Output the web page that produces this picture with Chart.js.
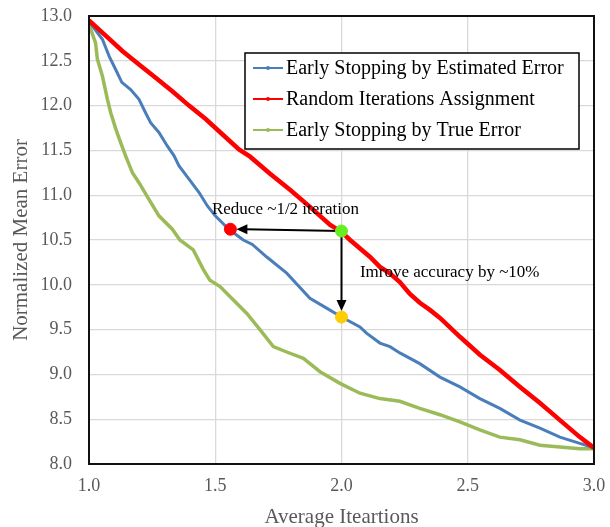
<!DOCTYPE html>
<html lang="en">
<head>
<meta charset="UTF-8">
<title>Normalized Mean Error</title>
<script src="https://cdn.jsdelivr.net/npm/chart.js"></script>
<style>
  body { margin: 0; background: #fff; }
  #wrap { width: 610px; height: 527px; }
</style>
</head>
<body>
<div id="wrap"><canvas id="errChart" width="610" height="527"></canvas></div>
<script>
// tick labels
const xTickValues = [1.0, 1.5, 2.0, 2.5, 3.0];
const yTickValues = [8.0, 8.5, 9.0, 9.5, 10.0, 10.5, 11.0, 11.5, 12.0, 12.5, 13.0];

const seriesNames = ['Early Stopping by Estimated Error', 'Random Iterations Assignment', 'Early Stopping by True Error'];
const seriesColors = ['#4a7ebb', '#ff0000', '#9bbb59'];

// Early Stopping by Estimated Error
const estX = [1.0, 1.013, 1.053, 1.08, 1.106, 1.13, 1.165, 1.198, 1.224, 1.244, 1.277, 1.31, 1.337, 1.356, 1.396,
  1.436, 1.469, 1.50, 1.554, 1.611, 1.647, 1.704, 1.783, 1.875, 1.941, 2.0, 2.073, 2.099, 2.152, 2.192, 2.231,
  2.31, 2.39, 2.469, 2.548, 2.627, 2.707, 2.786, 2.865, 2.944, 3.0];
const estY = [12.93, 12.89, 12.74, 12.55, 12.40, 12.26, 12.18, 12.07, 11.92, 11.81, 11.70, 11.55, 11.44, 11.33, 11.18,
  11.03, 10.88, 10.77, 10.62, 10.50, 10.45, 10.31, 10.13, 9.85, 9.74, 9.64, 9.53, 9.46, 9.35, 9.31, 9.24,
  9.12, 8.97, 8.86, 8.73, 8.62, 8.49, 8.40, 8.30, 8.23, 8.18];

// Random Iterations Assignment
const randX = [1.0, 1.066, 1.132, 1.198, 1.264, 1.33, 1.396, 1.462, 1.528, 1.594, 1.638, 1.717, 1.796, 1.875, 1.954,
  2.0, 2.034, 2.113, 2.152, 2.19, 2.231, 2.27, 2.31, 2.35, 2.39, 2.469, 2.548, 2.627, 2.707, 2.786, 2.865, 2.944, 3.0];
const randY = [12.95, 12.78, 12.61, 12.46, 12.31, 12.16, 12.00, 11.85, 11.68, 11.51, 11.43, 11.24, 11.06, 10.87, 10.67,
  10.59, 10.50, 10.31, 10.20, 10.13, 10.03, 9.90, 9.80, 9.72, 9.63, 9.42, 9.22, 9.05, 8.86, 8.68, 8.49, 8.30, 8.18];

// Early Stopping by True Error
const trueX = [1.0, 1.007, 1.026, 1.033, 1.053, 1.073, 1.086, 1.106, 1.125, 1.145, 1.172, 1.198, 1.238, 1.277, 1.33,
  1.36, 1.413, 1.453, 1.479, 1.519, 1.572, 1.625, 1.677, 1.73, 1.783, 1.849, 1.915, 1.994, 2.073, 2.152, 2.231,
  2.31, 2.39, 2.469, 2.548, 2.627, 2.707, 2.786, 2.865, 2.944, 3.0];
const trueY = [12.93, 12.85, 12.70, 12.52, 12.33, 12.07, 11.92, 11.74, 11.59, 11.44, 11.25, 11.14, 10.95, 10.77, 10.62,
  10.50, 10.39, 10.17, 10.05, 9.98, 9.83, 9.68, 9.50, 9.31, 9.25, 9.18, 9.03, 8.90, 8.79, 8.73, 8.70,
  8.62, 8.55, 8.47, 8.38, 8.30, 8.27, 8.21, 8.19, 8.17, 8.17];

// highlighted points: reduced iterations, same iterations (random), improved accuracy
const markX = [1.56, 2.0, 2.0];
const markY = [10.62, 10.60, 9.64];
const markColors = ['#ff0000', '#66ee22', '#ffcc00'];

const toPoints = (xs, ys) => xs.map((x, i) => ({ x: x, y: ys[i] }));
const serif = '"Liberation Serif", "Times New Roman", serif';

// arrows and notes between the highlighted points
const notesPlugin = {
    id: 'notes',
    beforeDatasetsDraw(chart) {
        const ctx = chart.ctx;
        const xs = chart.scales.x, ys = chart.scales.y;
        const r = { x: xs.getPixelForValue(markX[0]), y: ys.getPixelForValue(markY[0]) };
        const g = { x: xs.getPixelForValue(markX[1]), y: ys.getPixelForValue(markY[1]) };
        const yl = { x: xs.getPixelForValue(markX[2]), y: ys.getPixelForValue(markY[2]) };
        ctx.save();
        ctx.strokeStyle = '#000';
        ctx.fillStyle = '#000';
        ctx.lineWidth = 2;
        // horizontal arrow to the red point
        ctx.beginPath();
        ctx.moveTo(g.x, g.y);
        ctx.lineTo(r.x + 14, r.y);
        ctx.stroke();
        ctx.beginPath();
        ctx.moveTo(r.x + 6, r.y);
        ctx.lineTo(r.x + 17, r.y - 5);
        ctx.lineTo(r.x + 17, r.y + 5);
        ctx.closePath();
        ctx.fill();
        // vertical arrow to the yellow point
        ctx.beginPath();
        ctx.moveTo(g.x, g.y);
        ctx.lineTo(yl.x, yl.y - 14);
        ctx.stroke();
        ctx.beginPath();
        ctx.moveTo(yl.x, yl.y - 6);
        ctx.lineTo(yl.x - 5, yl.y - 17);
        ctx.lineTo(yl.x + 5, yl.y - 17);
        ctx.closePath();
        ctx.fill();
        ctx.restore();
    },
    afterDatasetsDraw(chart) {
        const ctx = chart.ctx;
        const xs = chart.scales.x, ys = chart.scales.y;
        ctx.save();
        ctx.fillStyle = '#000';
        ctx.font = '17px ' + serif;
        ctx.textBaseline = 'middle';
        ctx.textAlign = 'left';
        ctx.fillText('Reduce ~1/2 iteration', xs.getPixelForValue(1.487), ys.getPixelForValue(10.835));
        ctx.fillText('Imrove accuracy by ~10%', xs.getPixelForValue(2.073), ys.getPixelForValue(10.14));

        // frame round the plot
        const a = chart.chartArea;
        ctx.strokeStyle = '#111';
        ctx.lineWidth = 2;
        ctx.strokeRect(a.left, a.top, a.right - a.left, a.bottom - a.top);

        // legend box
        ctx.fillStyle = '#fff';
        ctx.fillRect(245, 53, 334, 96);
        ctx.strokeStyle = '#000';
        ctx.lineWidth = 1.5;
        ctx.strokeRect(245, 53, 334, 96);
        ctx.font = '20px ' + serif;
        [68, 99, 130].forEach((y, i) => {
            ctx.strokeStyle = seriesColors[i];
            ctx.fillStyle = seriesColors[i];
            ctx.lineWidth = 2;
            ctx.beginPath();
            ctx.moveTo(253, y);
            ctx.lineTo(283, y);
            ctx.stroke();
            ctx.beginPath();
            ctx.arc(268, y, 2, 0, Math.PI * 2);
            ctx.fill();
            ctx.fillStyle = '#000';
            ctx.fillText(seriesNames[i], 286, y + 1);
        });
        ctx.restore();
    }
};

const ctx = document.getElementById('errChart').getContext('2d');
const errChart = new Chart(ctx, {
    type: 'line',
    data: {
        datasets: [
            {
                type: 'scatter',
                label: 'marks',
                data: toPoints(markX, markY),
                backgroundColor: markColors,
                borderColor: markColors,
                pointRadius: 6,
                pointHoverRadius: 6,
                order: 0
            },
            {
                label: seriesNames[1],
                data: toPoints(randX, randY),
                borderColor: seriesColors[1],
                borderWidth: 4.5,
                pointRadius: 0,
                order: 1
            },
            {
                label: seriesNames[0],
                data: toPoints(estX, estY),
                borderColor: seriesColors[0],
                borderWidth: 3,
                pointRadius: 0,
                order: 2
            },
            {
                label: seriesNames[2],
                data: toPoints(trueX, trueY),
                borderColor: seriesColors[2],
                borderWidth: 3.5,
                pointRadius: 0,
                order: 3
            }
        ]
    },
    options: {
        responsive: false,
        animation: false,
        layout: { padding: { left: 0, right: 16, top: 16, bottom: 0 } },
        plugins: {
            legend: { display: false },
            tooltip: { enabled: false }
        },
        scales: {
            x: {
                type: 'linear',
                min: 1,
                max: 3,
                afterBuildTicks: s => { s.ticks = xTickValues.map(v => ({ value: v })); },
                afterFit: s => { s.height = 63; s.paddingLeft = 0; s.paddingRight = 0; },
                ticks: {
                    callback: v => v.toFixed(1),
                    color: '#595959',
                    font: { family: serif, size: 18 },
                    padding: 11,
                    maxRotation: 0
                },
                grid: { color: '#d9d9d9', lineWidth: 1.3, drawTicks: false },
                border: { color: '#111', width: 2 },
                title: {
                    display: true,
                    text: 'Average Iteartions',
                    color: '#595959',
                    font: { family: serif, size: 21 },
                    padding: { top: 0, bottom: -3 }
                }
            },
            y: {
                min: 8,
                max: 13,
                afterBuildTicks: s => { s.ticks = yTickValues.map(v => ({ value: v })); },
                afterFit: s => { s.width = 89; s.paddingTop = 0; s.paddingBottom = 0; },
                ticks: {
                    callback: v => v.toFixed(1),
                    color: '#595959',
                    font: { family: serif, size: 18 },
                    padding: 17
                },
                grid: { color: '#d9d9d9', lineWidth: 1.3, drawTicks: false },
                border: { color: '#111', width: 2 },
                title: {
                    display: true,
                    text: 'Normalized Mean Error',
                    color: '#595959',
                    font: { family: serif, size: 21 },
                    padding: { top: 9, bottom: 0 }
                }
            }
        }
    },
    plugins: [notesPlugin]
});
</script>
</body>
</html>
